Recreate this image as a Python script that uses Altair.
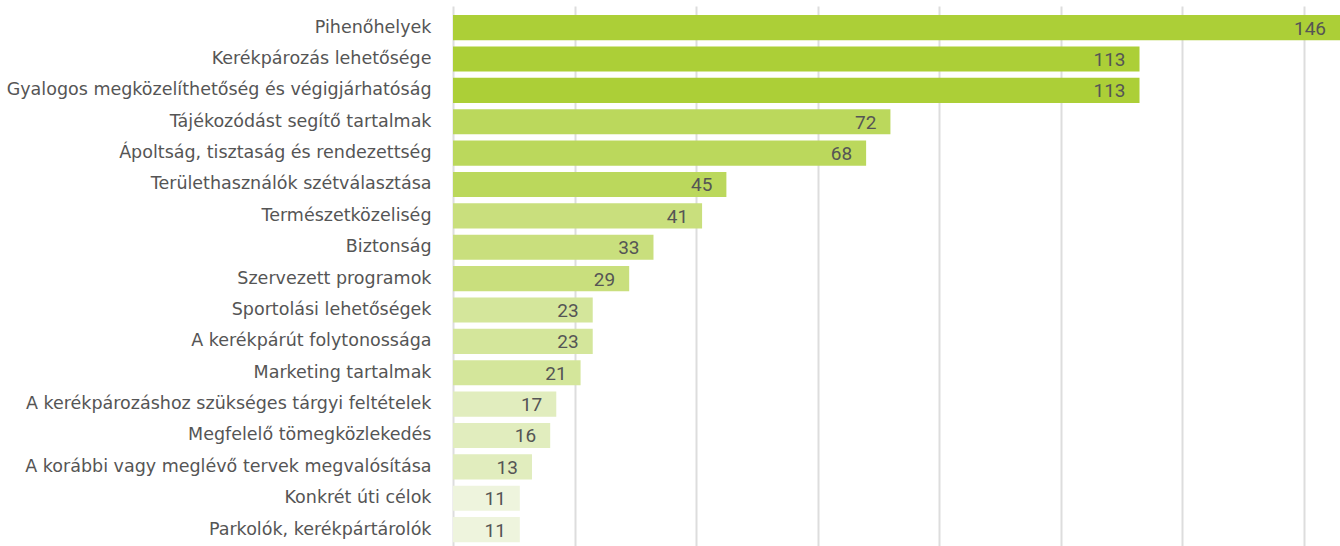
import altair as alt
import pandas as pd

categories = [
    "Pihenőhelyek",
    "Kerékpározás lehetősége",
    "Gyalogos megközelíthetőség és végigjárhatóság",
    "Tájékozódást segítő tartalmak",
    "Ápoltság, tisztaság és rendezettség",
    "Területhasználók szétválasztása",
    "Természetközeliség",
    "Biztonság",
    "Szervezett programok",
    "Sportolási lehetőségek",
    "A kerékpárút folytonossága",
    "Marketing tartalmak",
    "A kerékpározáshoz szükséges tárgyi feltételek",
    "Megfelelő tömegközlekedés",
    "A korábbi vagy meglévő tervek megvalósítása",
    "Konkrét úti célok",
    "Parkolók, kerékpártárolók",
]
values = [146, 113, 113, 72, 68, 45, 41, 33, 29, 23, 23, 21, 17, 16, 13, 11, 11]

df = pd.DataFrame({"category": categories, "value": values})

LABEL_FONT = "DejaVu Sans"
VALUE_FONT = "Roboto"
TEXT = "#555555"

y_enc = alt.Y(
    "category:N",
    sort=None,
    title=None,
    scale=alt.Scale(paddingInner=0.2, paddingOuter=0.2055, align=0.7),
    axis=alt.Axis(
        domain=False,
        ticks=False,
        grid=False,
        labelPadding=22,
        labelFont=LABEL_FONT,
        labelFontSize=17.5,
        labelColor=TEXT,
        labelLimit=600,
    ),
)
x_enc = alt.X(
    "value:Q",
    title=None,
    scale=alt.Scale(domain=[0, 146], nice=False, zero=True),
    axis=alt.Axis(
        values=[0, 20, 40, 60, 80, 100, 120, 140],
        labels=False,
        ticks=False,
        domain=False,
        grid=True,
        gridColor="#dddddd",
        gridWidth=2,
    ),
)

bars = alt.Chart(df).mark_bar(cornerRadius=0).encode(
    y=y_enc,
    x=x_enc,
    color=alt.Color(
        "value:Q",
        legend=None,
        scale=alt.Scale(
            type="threshold",
            domain=[12, 20, 25, 43, 100],
            range=["#eef4dd", "#e1edbe", "#d4e69b", "#c9df7d", "#bbd85c", "#accf37"],
        ),
    ),
)

labels = alt.Chart(df).mark_text(
    align="right", baseline="middle", dx=-14, dy=1, font=VALUE_FONT, fontSize=19, color=TEXT
).encode(
    y=alt.Y("category:N", sort=None),
    x=alt.X("value:Q"),
    text=alt.Text("value:Q"),
)

chart = (
    alt.layer(bars, labels)
    .properties(
        width=887,
        height=540,
        autosize=alt.AutoSizeParams(type="none"),
        padding={"left": 453, "top": 6, "right": 0, "bottom": 0},
    )
    .configure_view(stroke=None)
)

chart.save("out.html", embed_options={"renderer": "svg", "actions": False})
